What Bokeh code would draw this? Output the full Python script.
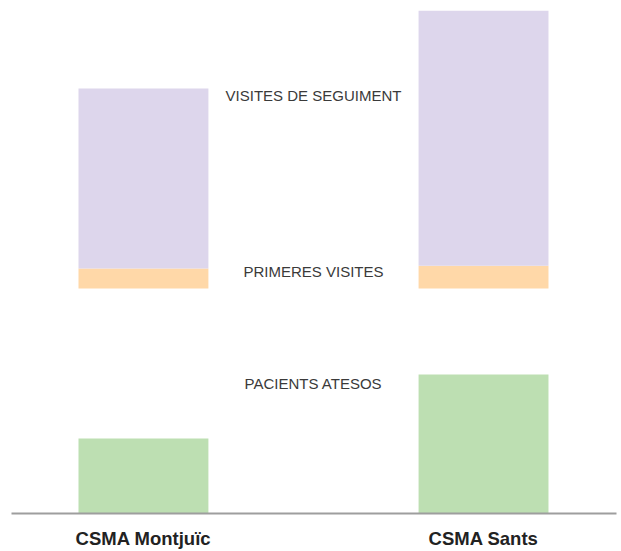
from bokeh.plotting import figure
from bokeh.models import ColumnDataSource, Range1d, FixedTicker, LinearAxis
from bokeh.embed import file_html
from bokeh.resources import INLINE
from bokeh.core.properties import value

# ---- data ----
centres = ["CSMA Montjuïc", "CSMA Sants"]
primeres_visites = [560, 640]
visites_seguiment = [5040, 7140]
pacients_atesos = [1420, 2630]
series_labels = ["VISITES DE SEGUIMENT", "PRIMERES VISITES", "PACIENTS ATESOS"]

# ---- styles ----
C_SEG = "#DDD6EC"
C_PRIM = "#FFD8A8"
C_PAC = "#BDDFB2"
FONT = "Liberation Sans"

xs = list(range(len(centres)))
bar_w = 0.382

p = figure(width=621, height=551, output_backend="svg", toolbar_location=None,
           x_range=Range1d(-0.388, 1.391), y_range=Range1d(0, 9713),
           min_border_left=11, min_border_right=5, min_border_top=0,
           min_border_bottom=38, x_axis_location=None, y_axis_location=None)
p.extra_y_ranges = {"vis": Range1d(-6300, 8064)}
p.grid.visible = False
p.outline_line_color = None
p.background_fill_color = "white"
p.border_fill_color = "white"

# patients bars (lower group)
p.vbar(x=xs, top=pacients_atesos, bottom=0, width=bar_w, color=C_PAC, line_color=None)

# visits stacked bars (upper group)
src = ColumnDataSource(dict(x=xs, prim=primeres_visites, seg=visites_seguiment,
                            tot=[a + b for a, b in zip(primeres_visites, visites_seguiment)],
                            zero=[0] * len(xs)))
p.vbar(x="x", bottom="zero", top="prim", width=bar_w, color=C_PRIM, line_color=None,
       source=src, y_range_name="vis")
p.vbar(x="x", bottom="prim", top="tot", width=bar_w, color=C_SEG, line_color=None,
       source=src, y_range_name="vis")

mid = (xs[0] + xs[1]) / 2
p.text(x=[mid], y=[src.data["tot"][0]], text=[series_labels[0]], y_range_name="vis",
       text_align="center", text_baseline="top", y_offset=-2,
       text_font=value(FONT), text_font_size="15px", text_color="#3a3a3a")
p.text(x=[mid], y=[primeres_visites[0]], text=[series_labels[1]], y_range_name="vis",
       text_align="center", text_baseline="middle", y_offset=3,
       text_font=value(FONT), text_font_size="15px", text_color="#3a3a3a")
p.text(x=[mid], y=[pacients_atesos[1]], text=[series_labels[2]],
       text_align="center", text_baseline="middle", y_offset=9,
       text_font=value(FONT), text_font_size="15px", text_color="#3a3a3a")

ax = LinearAxis(ticker=FixedTicker(ticks=xs),
                major_label_overrides={i: c for i, c in enumerate(centres)})
ax.axis_line_color = "#9e9e9e"
ax.axis_line_width = 2
ax.major_tick_line_color = None
ax.minor_tick_line_color = None
ax.major_label_text_font = FONT
ax.major_label_text_font_size = "18.5px"
ax.major_label_text_font_style = "bold"
ax.major_label_text_color = "#222222"
ax.major_label_standoff = 8
p.add_layout(ax, "below")

open("out.html", "w").write(file_html(p, INLINE))
